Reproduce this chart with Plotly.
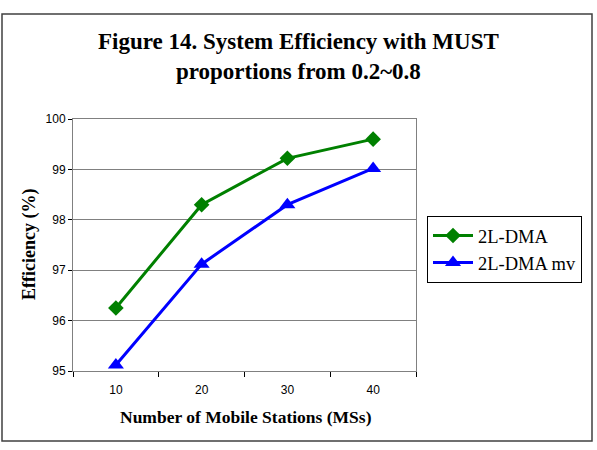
import plotly.graph_objects as go

x_vals = [10, 20, 30, 40]
dma = [96.25, 98.3, 99.22, 99.6]
dma_mv = [95.12, 97.12, 98.3, 99.02]
series_names = ["2L-DMA", "2L-DMA mv"]

W, H = 597, 450
L, R, T, B = 73, 416, 119, 371
pw, ph = R - L, B - T

def px(xp):
    return (xp - L) / pw

def py(yp):
    return (B - yp) / ph

fig = go.Figure()
fig.add_trace(go.Scatter(x=x_vals, y=dma, name=series_names[0], mode="lines+markers",
                         line=dict(color="#008000", width=3),
                         marker=dict(symbol="diamond", size=12, color="#008000")))
fig.add_trace(go.Scatter(x=x_vals, y=dma_mv, name=series_names[1], mode="lines+markers",
                         line=dict(color="#0000FF", width=3),
                         marker=dict(symbol="triangle-up", size=14, color="#0000FF")))

axis_font = dict(family="Liberation Sans, Arial", size=12, color="#000000")
fig.update_layout(
    width=W, height=H,
    margin=dict(l=L, r=W - R, t=T, b=H - B),
    paper_bgcolor="white", plot_bgcolor="white",
    showlegend=True,
    legend=dict(x=px(427), y=py(216), xanchor="left", yanchor="top",
                bordercolor="#000000", borderwidth=1, bgcolor="white",
                font=dict(family="Liberation Serif, Times New Roman", size=18.5, color="#000000"),
                itemwidth=40, tracegroupgap=0),
    xaxis=dict(range=[5, 45], tickvals=x_vals, ticks="", tickfont=axis_font,
               ticklabelstandoff=8,
               showgrid=False, zeroline=False, showline=True, linecolor="#808080",
               linewidth=1, mirror=True,
               minor=dict(ticks="outside", tick0=5, dtick=10, ticklen=5, tickcolor="#000000")),
    yaxis=dict(range=[95, 100], dtick=1, ticks="outside", ticklen=4, tickcolor="#000000",
               tickfont=axis_font, showgrid=True, gridcolor="#808080", gridwidth=1,
               zeroline=False, showline=True, linecolor="#808080", linewidth=1, mirror=True),
)

fig.add_annotation(x=px(298), y=py(56), xref="paper", yref="paper", showarrow=False,
                   text="<b>Figure 14. System Efficiency with MUST<br>proportions from 0.2~0.8</b>",
                   font=dict(family="Liberation Serif, Times New Roman", size=23, color="#000000"),
                   xanchor="center", yanchor="middle")
fig.add_annotation(x=px(246), y=py(417), xref="paper", yref="paper", showarrow=False,
                   text="<b>Number of Mobile Stations (MSs)</b>",
                   font=dict(family="Liberation Serif, Times New Roman", size=17.5, color="#000000"),
                   xanchor="center", yanchor="middle")
fig.add_annotation(x=px(29), y=py(245), xref="paper", yref="paper", showarrow=False,
                   text="<b>Efficiency (%)</b>", textangle=-90,
                   font=dict(family="Liberation Serif, Times New Roman", size=18, color="#000000"),
                   xanchor="center", yanchor="middle")

fig.add_shape(type="rect", xref="paper", yref="paper",
              x0=px(2), x1=px(592), y0=py(441), y1=py(14),
              line=dict(color="#404040", width=1.5), layer="below")

fig.write_html("out.html")
